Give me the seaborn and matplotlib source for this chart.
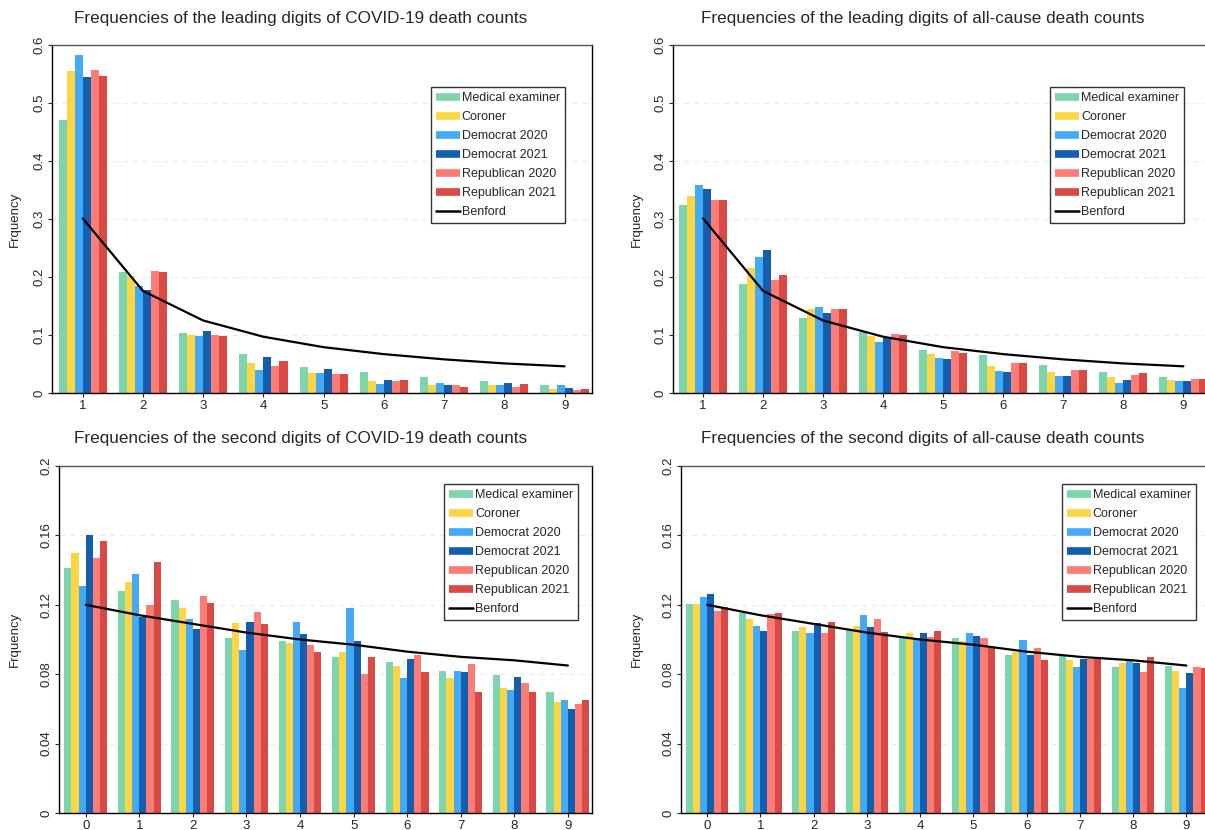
import matplotlib
matplotlib.use("Agg")
import matplotlib.pyplot as plt
from matplotlib.lines import Line2D
import seaborn as sns
import pandas as pd

# series shown in every panel
series = ["Medical examiner", "Coroner", "Democrat 2020", "Democrat 2021",
          "Republican 2020", "Republican 2021"]
colors = ["#7dd6ab", "#fdd542", "#42aaf8", "#135fae", "#fe7b76", "#d84a43"]

first_digits = [1, 2, 3, 4, 5, 6, 7, 8, 9]
second_digits = [0, 1, 2, 3, 4, 5, 6, 7, 8, 9]

benford_first = [0.301, 0.176, 0.125, 0.097, 0.079, 0.067, 0.058, 0.051, 0.046]
benford_second = [0.120, 0.114, 0.109, 0.104, 0.100, 0.097, 0.093, 0.090, 0.088, 0.085]

# leading digit, COVID-19 deaths (one row per series)
covid_first = [
    [0.471, 0.208, 0.104, 0.068, 0.045, 0.037, 0.028, 0.021, 0.014],
    [0.556, 0.201, 0.100, 0.052, 0.034, 0.021, 0.013, 0.014, 0.007],
    [0.582, 0.184, 0.099, 0.040, 0.034, 0.016, 0.018, 0.013, 0.013],
    [0.545, 0.178, 0.107, 0.062, 0.041, 0.023, 0.013, 0.018, 0.009],
    [0.557, 0.211, 0.100, 0.047, 0.033, 0.020, 0.014, 0.010, 0.005],
    [0.547, 0.208, 0.099, 0.055, 0.032, 0.022, 0.011, 0.016, 0.007],
]
# leading digit, all-cause deaths
allcause_first = [
    [0.324, 0.188, 0.129, 0.105, 0.075, 0.065, 0.048, 0.037, 0.028],
    [0.340, 0.216, 0.144, 0.098, 0.067, 0.046, 0.036, 0.028, 0.023],
    [0.359, 0.235, 0.149, 0.088, 0.060, 0.038, 0.029, 0.018, 0.021],
    [0.352, 0.247, 0.138, 0.095, 0.059, 0.037, 0.029, 0.022, 0.020],
    [0.333, 0.195, 0.145, 0.102, 0.073, 0.052, 0.040, 0.031, 0.025],
    [0.333, 0.203, 0.144, 0.100, 0.069, 0.051, 0.039, 0.034, 0.024],
]
# second digit, COVID-19 deaths
covid_second = [
    [0.141, 0.128, 0.123, 0.101, 0.099, 0.090, 0.087, 0.082, 0.0795, 0.070],
    [0.150, 0.133, 0.118, 0.1095, 0.098, 0.093, 0.085, 0.078, 0.072, 0.064],
    [0.131, 0.138, 0.112, 0.094, 0.110, 0.118, 0.078, 0.082, 0.071, 0.065],
    [0.160, 0.113, 0.106, 0.110, 0.103, 0.099, 0.089, 0.081, 0.0785, 0.060],
    [0.147, 0.120, 0.125, 0.116, 0.097, 0.080, 0.091, 0.086, 0.075, 0.063],
    [0.157, 0.1445, 0.121, 0.109, 0.093, 0.090, 0.081, 0.070, 0.070, 0.065],
]
# second digit, all-cause deaths
allcause_second = [
    [0.1206, 0.115, 0.105, 0.106, 0.1015, 0.101, 0.091, 0.0906, 0.084, 0.0847],
    [0.1206, 0.112, 0.107, 0.108, 0.104, 0.099, 0.093, 0.088, 0.0864, 0.082],
    [0.1244, 0.108, 0.104, 0.114, 0.101, 0.1036, 0.100, 0.084, 0.0875, 0.072],
    [0.126, 0.105, 0.1097, 0.107, 0.104, 0.102, 0.091, 0.0887, 0.0866, 0.0807],
    [0.1166, 0.1145, 0.104, 0.112, 0.1017, 0.101, 0.095, 0.0887, 0.0814, 0.084],
    [0.119, 0.115, 0.110, 0.1045, 0.105, 0.095, 0.088, 0.0887, 0.090, 0.0837],
]

sns.set_theme(style="white")
plt.rcParams["font.family"] = ["Liberation Sans", "DejaVu Sans"]


def long_frame(rows, digits):
    records = []
    for name, vals in zip(series, rows):
        for d, v in zip(digits, vals):
            records.append({"digit": d, "freq": v, "series": name})
    return pd.DataFrame(records)


def draw_panel(ax, rows, digits, benford, yticks, ylabels, xlim, legend_xy, label_x):
    df = long_frame(rows, digits)
    ax.yaxis.grid(True, color="#ececec", linestyle=(0, (5, 4)), linewidth=0.8)
    ax.set_axisbelow(True)
    sns.barplot(data=df, x="digit", y="freq", hue="series", hue_order=series,
                palette=colors, width=0.8, errorbar=None, saturation=1,
                linewidth=0, ax=ax, legend=False)
    ax.plot(range(len(digits)), benford, color="black", linewidth=1.6, zorder=5)

    ax.set_xlim(*xlim)
    ax.set_ylim(yticks[0], yticks[-1])
    ax.set_yticks(yticks)
    ax.set_yticklabels(ylabels, rotation=90, va="center")
    ax.set_xlabel("")
    ax.set_ylabel("Frquency", fontsize=9.5)
    ax.yaxis.set_label_coords(label_x, 0.5)
    ax.tick_params(axis="both", which="major", length=3, width=0.8,
                   labelsize=9.5, direction="out", bottom=True, left=True, pad=2)
    for side in ["left", "right", "top", "bottom"]:
        ax.spines[side].set_visible(True)
        ax.spines[side].set_color("black")
        ax.spines[side].set_linewidth(1.0)
    ax.spines["top"].set_color("#555555")

    handles = [Line2D([0], [0], color=c, linewidth=5.5, solid_capstyle="butt")
               for c in colors]
    handles.append(Line2D([0], [0], color="black", linewidth=1.8))
    leg = ax.legend(handles, series + ["Benford"], loc="upper right",
                    bbox_to_anchor=legend_xy, fontsize=9, frameon=True,
                    fancybox=False, edgecolor="#333333", framealpha=1,
                    handlelength=1.9, handletextpad=0.15, labelspacing=0.56,
                    borderpad=0.4, borderaxespad=0)
    leg.get_frame().set_linewidth(1.0)


fig = plt.figure(figsize=(12.05, 8.3), dpi=100)

ax1 = fig.add_axes([52 / 1205, 1 - 393 / 830, 540 / 1205, 348 / 830])
ax2 = fig.add_axes([673 / 1205, 1 - 393 / 830, 538 / 1205, 348 / 830])
ax3 = fig.add_axes([59 / 1205, 1 - 813 / 830, 533 / 1205, 347 / 830])
ax4 = fig.add_axes([681 / 1205, 1 - 813 / 830, 533 / 1205, 347 / 830])

top_ticks = [0, 0.1, 0.2, 0.3, 0.4, 0.5, 0.6]
top_labels = ["0", "0.1", "0.2", "0.3", "0.4", "0.5", "0.6"]
bot_ticks = [0, 0.04, 0.08, 0.12, 0.16, 0.2]
bot_labels = ["0", "0.04", "0.08", "0.12", "0.16", "0.2"]

draw_panel(ax1, covid_first, first_digits, benford_first, top_ticks, top_labels,
           (-0.51, 8.455), (0.95, 0.879), -0.058)
draw_panel(ax2, allcause_first, first_digits, benford_first, top_ticks, top_labels,
           (-0.5, 8.46), (0.95, 0.879), -0.056)
draw_panel(ax3, covid_second, second_digits, benford_second, bot_ticks, bot_labels,
           (-0.5, 9.45), (0.974, 0.948), -0.071)
draw_panel(ax4, allcause_second, second_digits, benford_second, bot_ticks, bot_labels,
           (-0.49, 9.52), (0.966, 0.948), -0.071)

title_kw = dict(fontsize=12.3, va="center", ha="left")
fig.text(74 / 1205, 1 - 18 / 830,
         "Frequencies of the leading digits of COVID-19 death counts", **title_kw)
fig.text(701 / 1205, 1 - 18 / 830,
         "Frequencies of the leading digits of all-cause death counts", **title_kw)
fig.text(74 / 1205, 1 - 438 / 830,
         "Frequencies of the second digits of COVID-19 death counts", **title_kw)
fig.text(701 / 1205, 1 - 438 / 830,
         "Frequencies of the second digits of all-cause death counts", **title_kw)

fig.savefig("out.png", dpi=100)
